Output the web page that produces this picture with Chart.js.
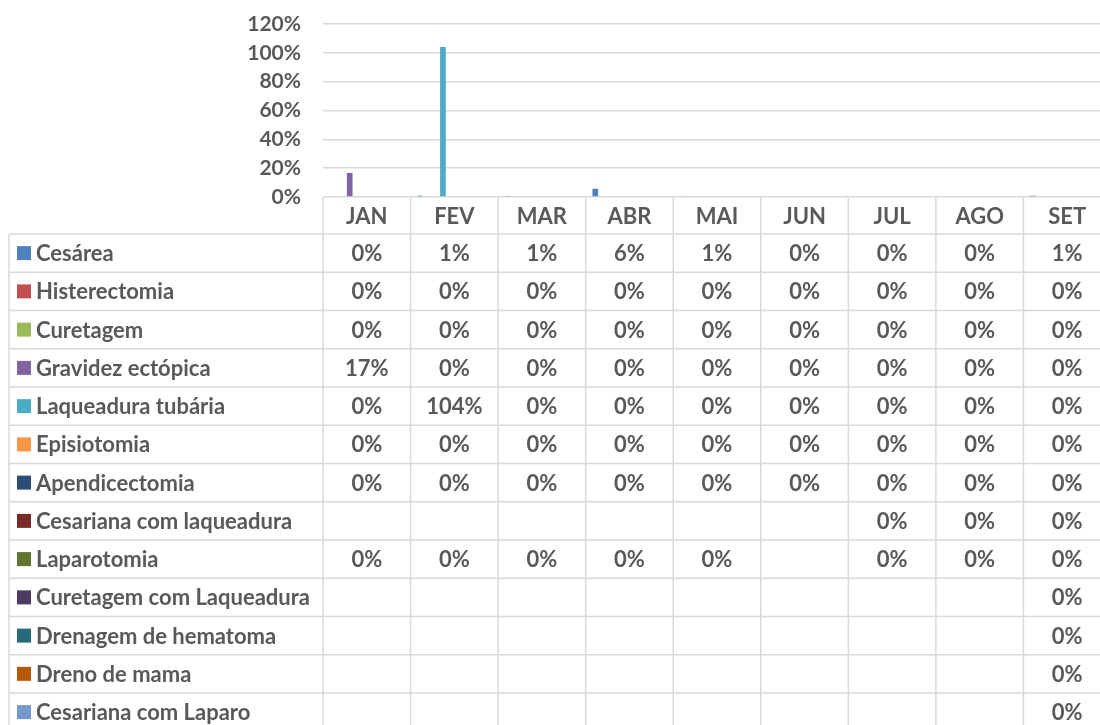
<!DOCTYPE html>
<html>
<head>
<meta charset="utf-8">
<script src="https://cdn.jsdelivr.net/npm/chart.js@4/dist/chart.umd.min.js"></script>
<style>
  html, body { margin: 0; padding: 0; background: #fff; overflow: hidden; }
  #wrap { width: 1100px; height: 725px; overflow: hidden; }
</style>
</head>
<body>
<div id="wrap"><canvas id="c" width="1111" height="725"></canvas></div>
<script>
const months = ["JAN", "FEV", "MAR", "ABR", "MAI", "JUN", "JUL", "AGO", "SET"];
const yTicks = [0, 0.2, 0.4, 0.6, 0.8, 1.0, 1.2];

// one array per procedure (fractions, null = empty cell)
const cesarea        = [0, 0.009, 0.007, 0.057, 0.006, 0, 0, 0, 0.009];
const histerectomia  = [0, 0, 0, 0, 0, 0, 0, 0, 0];
const curetagem      = [0, 0, 0, 0, 0, 0, 0, 0, 0];
const gravidez       = [0.167, 0, 0, 0, 0, 0, 0, 0, 0];
const laqueadura     = [0, 1.04, 0, 0, 0, 0, 0, 0, 0];
const episiotomia    = [0, 0, 0, 0, 0, 0, 0, 0, 0];
const apendicectomia = [0, 0, 0, 0, 0, 0, 0, 0, 0];
const cesLaqueadura  = [null, null, null, null, null, null, 0, 0, 0];
const laparotomia    = [0, 0, 0, 0, 0, null, 0, 0, 0];
const curLaqueadura  = [null, null, null, null, null, null, null, null, 0];
const drenagem       = [null, null, null, null, null, null, null, null, 0];
const drenoMama      = [null, null, null, null, null, null, null, null, 0];
const cesLaparo      = [null, null, null, null, null, null, null, null, 0];

const names = ["Cesárea", "Histerectomia", "Curetagem", "Gravidez ectópica", "Laqueadura tubária",
  "Episiotomia", "Apendicectomia", "Cesariana com laqueadura", "Laparotomia",
  "Curetagem com Laqueadura", "Drenagem de hematoma", "Dreno de mama", "Cesariana com Laparo"];
const values = [cesarea, histerectomia, curetagem, gravidez, laqueadura, episiotomia, apendicectomia,
  cesLaqueadura, laparotomia, curLaqueadura, drenagem, drenoMama, cesLaparo];
const colors = ["#4F81BD", "#C0504D", "#9BBB59", "#8064A2", "#4BACC6", "#F79646", "#2C4D75",
  "#772C2A", "#5F7530", "#4D3B62", "#276A7C", "#B65708", "#729ACA"];

const textColor = "#595959";
const lineColor = "#d9d9d9";
const font = "bold 22px Lato";

function pct(v) { return Math.round(v * 100) + "%"; }

const dataTable = {
  id: "dataTable",
  afterDraw(chart) {
    const ctx = chart.ctx;
    const x = chart.scales.x;
    const area = chart.chartArea;
    const colW = x.getPixelForValue(1) - x.getPixelForValue(0);
    const top = area.bottom;
    const headH = 37;
    const rowH = 38.25;
    const left = 9;
    const bottom = chart.height;

    ctx.save();
    ctx.strokeStyle = lineColor;
    ctx.lineWidth = 1.5;
    ctx.beginPath();
    for (let i = 0; i <= months.length; i++) {
      const px = area.left + i * colW;
      ctx.moveTo(px, top);
      ctx.lineTo(px, bottom);
    }
    ctx.moveTo(left, top + headH);
    ctx.lineTo(left, bottom);
    for (let r = 0; r <= names.length; r++) {
      const py = top + headH + r * rowH;
      ctx.moveTo(left, py);
      ctx.lineTo(area.right, py);
    }
    ctx.stroke();

    ctx.font = font;
    ctx.fillStyle = textColor;
    ctx.textBaseline = "middle";
    ctx.textAlign = "center";
    months.forEach((m, i) => {
      ctx.fillText(m, x.getPixelForValue(i), top + headH / 2 + 1);
    });

    names.forEach((n, r) => {
      const cy = top + headH + r * rowH + rowH / 2;
      ctx.fillStyle = colors[r];
      ctx.fillRect(17, cy - 7, 14, 14);
      ctx.fillStyle = textColor;
      ctx.textAlign = "left";
      ctx.fillText(n, 36, cy + 1);
      ctx.textAlign = "center";
      values[r].forEach((v, i) => {
        if (v !== null) ctx.fillText(pct(v), x.getPixelForValue(i), cy + 1);
      });
    });
    ctx.restore();
  }
};

new Chart(document.getElementById("c"), {
  type: "bar",
  data: {
    labels: months,
    datasets: names.map((n, i) => ({
      label: n,
      data: values[i],
      backgroundColor: colors[i],
      categoryPercentage: 0.845,
      barPercentage: 1
    }))
  },
  options: {
    responsive: false,
    animation: false,
    layout: { padding: { left: 0, right: 0, top: 24, bottom: 528 } },
    plugins: { legend: { display: false }, tooltip: { enabled: false } },
    scales: {
      x: { display: false },
      y: {
        min: 0,
        max: 1.2,
        afterFit: s => { s.width = 323; s.paddingTop = 0; s.paddingBottom = 0; },
        afterBuildTicks: s => { s.ticks = yTicks.map(v => ({ value: v })); },
        border: { display: false },
        grid: { color: lineColor, lineWidth: 1.5, drawTicks: false },
        ticks: {
          padding: 22,
          color: textColor,
          font: { family: "Lato", weight: "bold", size: 21 },
          callback: v => pct(v)
        }
      }
    }
  },
  plugins: [dataTable]
});
</script>
</body>
</html>
